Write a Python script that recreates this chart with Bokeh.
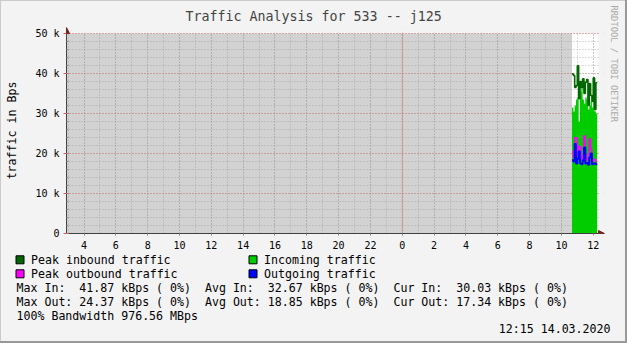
from bokeh.plotting import figure
from bokeh.layouts import column
from bokeh.models import Span, Arrow, NormalHead, FixedTicker, Title
from bokeh.embed import file_html
from bokeh.resources import INLINE
from bokeh.core.properties import value

# ---------------- data ----------------
title_text = "Traffic Analysis for 533 -- j125"
y_label = "traffic in Bps"
watermark = "RRDTOOL / TOBI OETIKER"

# sample times (second day), 5-minute steps
times = ["10:40", "10:45", "10:50", "10:55", "11:00", "11:05", "11:10", "11:15",
         "11:20", "11:25", "11:30", "11:35", "11:40", "11:45", "11:50", "11:55",
         "12:00", "12:05", "12:10"]
day_offset = 24          # hours from start of the first day to midnight
step_minutes = 5

# values in kBps
peak_in = [39.9, 39.5, 36.5, 37.0, 41.9, 33.7, 38.0, 36.5, 38.7, 35.0,
           37.8, 38.5, 32.0, 37.5, 34.5, 33.0, 38.9, 31.0, 37.7]
avg_in = [31.5, 30.5, 32.0, 33.5, 34.0, 28.0, 35.5, 36.5, 33.5, 32.5,
          34.0, 33.5, 31.0, 32.0, 33.0, 31.5, 34.5, 30.5, 30.0]
peak_out = [20.5, 19.0, 24.0, 23.8, 19.5, 21.8, 21.5, 18.5, 19.5, 24.4,
            20.0, 18.5, 18.0, 23.7, 21.0, 18.0, 18.5, 18.5, 18.0]
avg_out = [18.3, 18.0, 22.4, 17.5, 18.7, 20.5, 17.5, 17.3, 18.3, 21.5,
           17.5, 17.6, 17.2, 19.0, 20.0, 17.3, 17.5, 17.5, 17.3]

x_ticks = [4, 6, 8, 10, 12, 14, 16, 18, 20, 22, 24, 26, 28, 30, 32, 34, 36]
x_tick_labels = ["4", "6", "8", "10", "12", "14", "16", "18", "20", "22",
                 "0", "2", "4", "6", "8", "10", "12"]
y_ticks = [0, 10, 20, 30, 40, 50]
y_tick_labels = ["0", "10 k", "20 k", "30 k", "40 k", "50 k"]

legend_names = ["Peak inbound traffic", "Incoming traffic",
                "Peak outbound traffic", "Outgoing traffic"]
stat_labels = [["Max In:", "Avg In:", "Cur In:"],
               ["Max Out:", "Avg Out:", "Cur Out:"]]
stat_values = [["41.87 kBps ( 0%)", "32.67 kBps ( 0%)", "30.03 kBps ( 0%)"],
               ["24.37 kBps ( 0%)", "18.85 kBps ( 0%)", "17.34 kBps ( 0%)"]]
bandwidth_line = "100% Bandwidth 976.56 MBps"
stamp = "12:15 14.03.2020"

x_start, x_end = 2.9, 36.33
y_start, y_end = 0, 50

# ---------------- colours / fonts ----------------
C_PEAK_IN = "#006600"
C_IN = "#00cc00"
C_PEAK_OUT = "#ff00ff"
C_OUT = "#0000ff"
BACK = "#f3f3f3"
UNKNOWN = "#d2d2d2"
GRID = "#8f8f8f"
MGRID = "#e05050"
ARROW = "#7f1f1f"
AXIS = "#404040"
MONO = "DejaVu Sans Mono"
FS = "11.6px"
CH = 6.98   # char advance of FS mono

# ---------------- derived ----------------
step = step_minutes / 60
hours = [day_offset + int(t.split(":")[0]) + int(t.split(":")[1]) / 60 for t in times]
edges = hours + [hours[-1] + step]


def ext(v):
    return v + [v[-1]]


# ---------------- main chart ----------------
W, H_A, H_B = 627, 252, 91
PL, PR, PT, PB = 66, 23, 27, 19
PAD = 6                               # px room for axis arrows
chart_w = W - PL - PR - PAD           # 532
chart_h = H_A - PT - PB - PAD         # 200
x_pad = (x_end - x_start) * PAD / chart_w
y_pad = (y_end - y_start) * PAD / chart_h

p = figure(width=W, height=H_A,
           min_border_left=PL, min_border_right=PR,
           min_border_top=PT, min_border_bottom=PB,
           x_range=(x_start, x_end + x_pad), y_range=(y_start, y_end + y_pad),
           output_backend="svg", toolbar_location=None,
           background_fill_color=BACK, border_fill_alpha=0,
           outline_line_color=None)
p.frame_align = False

# canvas of the chart, and unknown-data shading before the first sample
p.quad(left=[x_start], right=[x_end], bottom=[y_start], top=[y_end],
       fill_color="white", line_color=None, level="image")
p.quad(left=[x_start], right=[hours[0]], bottom=[y_start], top=[y_end],
       fill_color=UNKNOWN, line_color=None, level="image")

# data
p.varea_step(x=edges, y1=[0] * len(edges), y2=ext(avg_in), step_mode="after",
             fill_color=C_IN)
p.step(x=edges, y=ext(peak_in), mode="after", line_color=C_PEAK_IN, line_width=1.6)
p.step(x=edges, y=ext(peak_out), mode="after", line_color=C_PEAK_OUT, line_width=1.6)
p.step(x=edges, y=ext(avg_out), mode="after", line_color=C_OUT, line_width=2)

# hide grid lines in the arrow margin
eps_y = (y_end - y_start) / chart_h * 0.8
eps_x = (x_end - x_start) / chart_w * 0.8
p.quad(left=[x_start], right=[x_end + x_pad], bottom=[y_end + eps_y], top=[y_end + y_pad],
       fill_color=BACK, line_color=None)
p.quad(left=[x_end + eps_x], right=[x_end + x_pad], bottom=[y_start], top=[y_end + y_pad],
       fill_color=BACK, line_color=None)

# ---------------- axes / grid ----------------
xt = FixedTicker(ticks=x_ticks, minor_ticks=list(range(3, 37)))
yt = FixedTicker(ticks=y_ticks, minor_ticks=list(range(0, 51, 2)))
p.xaxis.ticker = xt
p.xgrid.ticker = xt
p.yaxis.ticker = yt
p.ygrid.ticker = yt
p.xaxis.major_label_overrides = dict(zip(x_ticks, x_tick_labels))
p.yaxis.major_label_overrides = dict(zip(y_ticks, y_tick_labels))

for ax in (p.xaxis, p.yaxis):
    ax.axis_line_color = AXIS
    ax.major_label_text_font = MONO
    ax.major_label_text_font_size = "10px"
    ax.major_label_text_color = "black"

p.xaxis.major_tick_line_color = GRID
p.xaxis.major_tick_out = 2
p.xaxis.major_tick_in = 0
p.xaxis.minor_tick_line_color = None
p.xaxis.major_label_standoff = 3

p.yaxis.major_tick_line_color = MGRID
p.yaxis.major_tick_out = 3
p.yaxis.major_tick_in = 2
p.yaxis.minor_tick_line_color = GRID
p.yaxis.minor_tick_out = 0
p.yaxis.minor_tick_in = 2
p.yaxis.major_label_standoff = 4
p.yaxis.axis_label = y_label
p.yaxis.axis_label_text_font = MONO
p.yaxis.axis_label_text_font_size = FS
p.yaxis.axis_label_text_font_style = "normal"
p.yaxis.axis_label_text_color = "black"
p.yaxis.axis_label_standoff = 13

p.xgrid.grid_line_color = GRID
p.xgrid.grid_line_alpha = 0.6
p.xgrid.grid_line_dash = "1 2"
p.xgrid.minor_grid_line_color = GRID
p.xgrid.minor_grid_line_alpha = 0.6
p.xgrid.minor_grid_line_dash = "1 2"
p.ygrid.grid_line_color = MGRID
p.ygrid.grid_line_alpha = 0.6
p.ygrid.grid_line_dash = "1 2"
p.ygrid.minor_grid_line_color = GRID
p.ygrid.minor_grid_line_alpha = 0.6
p.ygrid.minor_grid_line_dash = "1 2"

midnight = Span(location=day_offset, dimension="height", line_color=MGRID,
                line_alpha=0.7, line_dash="1 1", line_width=1, level="underlay")
p.add_layout(midnight)

# axis arrow heads
for xs, ys, xe, ye in [(x_start, y_start, x_start, y_end + y_pad),
                       (x_start, y_start, x_end + x_pad, y_start)]:
    p.add_layout(Arrow(end=NormalHead(size=6, fill_color=ARROW, line_color=ARROW),
                       x_start=xs, y_start=ys, x_end=xe, y_end=ye,
                       line_alpha=0))

# title and watermark
p.title.text = title_text
p.title.text_font = MONO
p.title.text_font_size = "13.3px"
p.title.text_font_style = "normal"
p.title.align = "left"
p.title.offset = 119
p.title.standoff = 7
p.add_layout(Title(text=watermark, text_font=MONO, text_font_size="8.8px",
                   text_font_style="normal", text_color="#aaaaaa",
                   align="left", offset=-22, standoff=8), "right")

# ---------------- legend / statistics panel ----------------
q = figure(width=W, height=H_B, x_range=(0, W), y_range=(H_A + H_B, H_A),
           min_border=0, x_axis_type=None, y_axis_type=None,
           output_backend="svg", toolbar_location=None,
           background_fill_alpha=0, border_fill_alpha=0, outline_line_color=None)
q.frame_align = False

legend_colors = [C_PEAK_IN, C_IN, C_PEAK_OUT, C_OUT]
col_x = [15.5, 248.5]
row_y = [259.3, 273.3]
sq_l, sq_t, tx, ty = [], [], [], []
for i in range(len(legend_names)):
    sq_l.append(col_x[i % 2])
    sq_t.append(row_y[i // 2] - 4)
    tx.append(col_x[i % 2] + 15)
    ty.append(row_y[i // 2])
q.quad(left=sq_l, right=[v + 8 for v in sq_l], top=sq_t, bottom=[v + 8 for v in sq_t],
       fill_color=legend_colors, line_color="black", line_width=1)
q.text(x=tx, y=ty, text=legend_names, text_font=value(MONO), text_font_size=FS,
       text_baseline="middle", text_align="left", text_color="black")

sx, sy, st = [], [], []
for r in range(len(stat_labels)):
    for c in range(3):
        x0 = 16 + c * 27 * CH
        sx += [x0, x0 + 9 * CH]
        sy += [287.3 + 14 * r] * 2
        st += [stat_labels[r][c], stat_values[r][c]]
sx.append(16)
sy.append(315.3)
st.append(bandwidth_line)
q.text(x=sx, y=sy, text=st, text_font=value(MONO), text_font_size=FS,
       text_baseline="middle", text_align="left", text_color="black")
q.text(x=[610], y=[328.3], text=[stamp], text_font=value(MONO), text_font_size=FS,
       text_baseline="middle", text_align="right", text_color="black")

page = column(p, q, spacing=0,
              styles={"background-color": BACK,
                      "box-shadow": "inset -2px -2px 0 0 #999999, inset 1px 1px 0 0 #cbcbcb"})

open("out.html", "w").write(file_html(page, INLINE))
